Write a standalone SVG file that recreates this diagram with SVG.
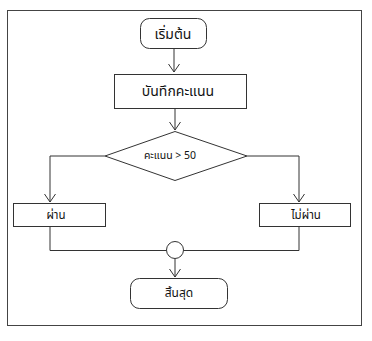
<svg xmlns="http://www.w3.org/2000/svg" width="372" height="341" viewBox="0 0 372 341">
<style>
.s{fill:#fff;stroke:#333;stroke-width:1}
.c{fill:none;stroke:#333;stroke-width:1}
.t{font-family:"Tahoma","Noto Sans Thai","Noto Sans","DejaVu Sans",sans-serif;fill:#111;text-anchor:middle;dominant-baseline:central}
</style>
<rect width="372" height="341" fill="#fff"/>
<rect id="frame" x="7.5" y="10.5" width="354" height="315" fill="none" stroke="#444" stroke-width="1"/>
<g id="connectors" class="c">
<path d="M174,48 V72"/>
<path d="M175,108 V130"/>
<path d="M105,156 H50 V202"/>
<path d="M247,156 H299 V202"/>
<path d="M50,226 V250.5 H166.5"/>
<path d="M299,226 V250.5 H183.5"/>
<path d="M175,259 V277"/>
<path d="M168.5,64 L174,72 L179.5,64"/>
<path d="M169.5,122 L175,130 L180.5,122"/>
<path d="M44.5,194 L50,202 L55.5,194"/>
<path d="M293.5,194 L299,202 L304.5,194"/>
<path d="M169.5,269 L175,277 L180.5,269"/>
</g>
<g id="start">
<rect class="s" x="140.5" y="18.5" width="66" height="30" rx="9"/>
<text class="t" x="173" y="34" font-size="14">เริ่มต้น</text>
</g>
<g id="record">
<rect class="s" x="114.5" y="74.5" width="132" height="34"/>
<text class="t" x="178" y="91" font-size="14">บันทึกคะแนน</text>
</g>
<g id="decision">
<polygon class="s" points="175,131.5 247,156 175,180.5 105,156"/>
<text class="t" x="170" y="156" font-size="10.5">คะแนน &gt; 50</text>
</g>
<g id="pass">
<rect class="s" x="13.5" y="203.5" width="92" height="23"/>
<text class="t" x="56" y="215" font-size="11.5">ผ่าน</text>
</g>
<g id="fail">
<rect class="s" x="259.5" y="203.5" width="91" height="23"/>
<text class="t" x="306" y="215" font-size="11.5">ไม่ผ่าน</text>
</g>
<g id="join">
<circle class="s" cx="175" cy="250" r="8.5"/>
</g>
<g id="end">
<rect class="s" x="130.5" y="278.5" width="97" height="30" rx="9"/>
<text class="t" x="179" y="293" font-size="12">สิ้นสุด</text>
</g>
</svg>
